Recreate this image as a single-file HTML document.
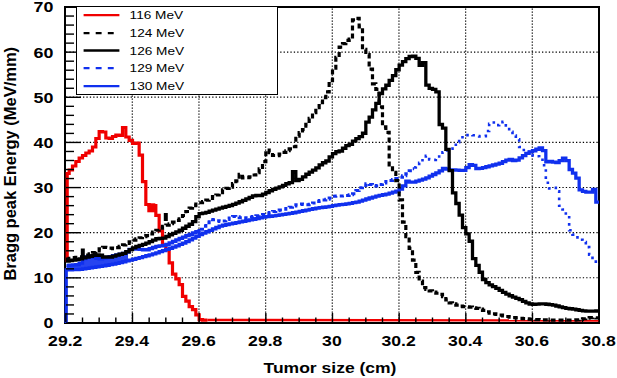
<!DOCTYPE html>
<html><head><meta charset="utf-8"><style>
html,body{margin:0;padding:0;background:#fff;}
body{width:617px;height:378px;position:relative;overflow:hidden;font-family:"Liberation Sans",sans-serif;}
</style></head><body>
<svg width="617" height="378" viewBox="0 0 617 378" style="position:absolute;left:0;top:0"><g stroke="#000" stroke-width="1.2" stroke-dasharray="1.2 1.8"><line x1="132.30" y1="8.5" x2="132.30" y2="322" /><line x1="198.96" y1="8.5" x2="198.96" y2="322" /><line x1="265.63" y1="8.5" x2="265.63" y2="322" /><line x1="332.29" y1="8.5" x2="332.29" y2="322" /><line x1="398.96" y1="8.5" x2="398.96" y2="322" /><line x1="465.63" y1="8.5" x2="465.63" y2="322" /><line x1="532.29" y1="8.5" x2="532.29" y2="322" /></g><g stroke="#000" stroke-width="1.2" stroke-dasharray="1.3 2.1"><line x1="66" y1="277.76" x2="598" y2="277.76" /><line x1="66" y1="232.62" x2="598" y2="232.62" /><line x1="66" y1="187.48" x2="598" y2="187.48" /><line x1="66" y1="142.34" x2="598" y2="142.34" /><line x1="66" y1="97.20" x2="598" y2="97.20" /><line x1="66" y1="52.06" x2="598" y2="52.06" /></g><rect x="65" y="7" width="534" height="316" fill="none" stroke="#000" stroke-width="2"/><rect x="147.3" y="203.3" width="8" height="9" fill="#f00000"/><polygon points="66.5,265.5 68.1,265.4 69.7,265.3 71.2,265.1 72.8,265.0 74.4,264.9 76.0,264.8 77.5,264.7 79.1,264.6 80.7,263.5 82.3,261.1 83.8,258.7 85.4,257.9 87.0,257.1 88.6,256.4 90.2,256.2 91.7,256.6 93.3,257.1 94.9,257.5 96.5,258.0 98.0,258.4 99.6,258.9 101.2,258.8 102.8,258.4 104.3,258.1 105.9,257.8 107.5,257.5 109.1,257.2 110.7,256.8 112.2,256.3 113.8,255.9 115.4,255.4 117.0,255.0 118.5,254.7 120.1,254.4 121.7,254.1 123.3,253.6 124.8,253.1 126.4,252.7 128.0,251.7 128.0,260.8 126.4,261.2 124.8,261.6 123.3,262.0 121.7,262.3 120.1,262.7 118.5,263.1 117.0,263.5 115.4,263.9 113.8,264.2 112.2,264.5 110.7,264.7 109.1,265.0 107.5,265.2 105.9,265.5 104.3,265.8 102.8,266.0 101.2,266.3 99.6,266.5 98.0,266.8 96.5,267.0 94.9,267.3 93.3,267.6 91.7,267.8 90.2,268.0 88.6,268.2 87.0,268.5 85.4,268.7 83.8,268.9 82.3,269.2 80.7,269.4 79.1,269.5 77.5,269.5 76.0,269.5 74.4,269.5 72.8,269.5 71.2,269.5 69.7,269.5 68.1,269.5 66.5,269.5" fill="#1030ee" fill-opacity="0.9"/><path d="M67.20,262.00V173.50H69.16V170.00H72.50V166.00H75.83V161.50H79.16V158.00H82.50V155.50H85.83V153.00H89.16V151.00H92.50V147.00H95.83V138.50H99.16V131.50H102.50V132.00H105.83V138.00H109.16V138.50H112.50V136.50H115.83V135.00H119.16V135.50H122.50V127.50H125.83V137.00H129.16V140.40H132.50V143.50H135.83V143.00H139.16V155.04H142.50V181.54H145.83V204.48H149.16V205.49H152.50V205.50H155.83V215.39H159.16V230.92H162.50V245.26H165.83V249.83H169.16V262.81H172.50V274.21H175.83V278.83H179.16V284.59H182.50V296.45H185.83V301.05H189.16V306.70H192.50V309.57H195.83V314.81H199.16V319.57H202.50V320.21H205.83V320.05H207.30" fill="none" stroke="#f00000" stroke-width="3.2" stroke-linejoin="miter" /><polyline points="207.3,320.0 599.0,320.5" fill="none" stroke="#f00000" stroke-width="2.4" stroke-linejoin="miter" /><path d="M66.20,323.00V270.00V269.95H69.16V269.83H72.50V269.71H75.83V269.59H79.16V269.37H82.50V268.89H85.83V268.41H89.16V267.92H92.50V267.42H95.83V266.88H99.16V266.33H102.50V265.78H105.83V265.23H109.16V264.69H112.50V264.13H115.83V263.38H119.16V262.56H122.50V261.74H125.83V260.91H129.16V260.09H132.50V259.25H135.83V258.40H139.16V257.56H142.50V256.71H145.83V255.77H149.16V254.80H152.50V253.83H155.83V252.83H159.16V251.72H162.50V250.61H165.83V249.46H169.16V248.24H172.50V247.03H175.83V245.79H179.16V244.43H182.50V243.07H185.83V241.69H189.16V239.97H192.50V238.16H195.83V236.36H199.16V234.65H202.50V233.20H205.83V231.75H209.16V230.31H212.50V228.86H215.83V227.51H219.16V226.18H222.50V225.23H225.83V224.57H229.16V223.91H232.50V223.25H235.83V222.59H239.16V221.93H242.50V221.27H245.83V220.59H249.16V219.91H252.50V219.24H255.83V218.56H259.16V217.89H262.50V217.22H265.83V216.72H269.16V216.26H272.50V215.80H275.83V215.34H279.16V214.88H282.50V214.40H285.83V213.92H289.16V213.38H292.50V212.73H295.83V212.09H299.16V211.43H302.50V210.74H305.83V210.05H309.16V209.38H312.50V208.73H315.83V208.08H319.16V207.60H322.50V207.26H325.83V206.91H329.16V206.37H332.50V205.72H335.83V205.08H339.16V204.65H342.49V204.31H345.83V203.95H349.16V203.37H352.49V202.71H355.83V202.04H359.16V201.06H362.49V200.03H365.83V199.01H369.16V198.02H372.49V197.03H375.83V196.09H379.16V195.41H382.49V194.76H385.83V194.04H389.16V193.05H392.49V192.05H395.83V191.04H399.16V189.17H402.49V185.83H405.83V181.24H409.16V182.03H412.49V182.21H415.83V181.21H419.16V180.20H422.49V179.08H425.83V177.83H429.16V176.19H432.49V174.52H435.83V172.91H439.16V170.84H442.49V168.34H445.83V169.22H449.16V169.80H452.49V169.81H455.83V170.06H459.16V170.38H462.49V170.34H465.83V167.67H469.16V164.70H472.49V165.44H475.83V168.63H479.16V168.28H482.49V167.60H485.83V166.74H489.16V165.89H492.49V165.02H495.83V164.16H499.16V163.25H502.49V161.72H505.83V160.05H509.16V159.40H512.49V160.50H515.83V160.10H519.16V157.88H522.49V155.65H525.83V153.41H529.16V151.89H532.49V150.77H535.83V149.25H539.16V147.86H542.49V150.68H545.83V161.80H549.16V161.28H552.49V162.18H555.83V162.55H559.16V160.71H562.49V158.12H565.83V160.69H569.16V169.50H572.49V173.05H575.83V178.18H579.16V189.89H582.49V191.45H585.83V192.16H589.16V192.18H592.49V189.52H595.83V202.04H599.00" fill="none" stroke="#1030ee" stroke-width="3.3" stroke-linejoin="miter" /><path d="M66.50,265.40H69.16V265.18H72.50V264.93H75.83V264.69H79.16V263.17H82.50V258.71H85.83V256.91H89.16V256.38H92.50V257.33H95.83V258.28H99.16V258.81H102.50V258.17H105.83V257.50H109.16V256.75H112.50V255.75H115.83V254.90H119.16V254.23H122.50V253.35H125.83V252.01H129.16V249.28H132.50V248.68H135.83V249.14H139.16V249.44H142.50V249.74H145.83V249.77H149.16V248.66H152.50V247.49H155.83V246.44H159.16V245.86H162.50V245.31H165.83V244.32H169.16V242.80H172.50V241.29H175.83V239.80H179.16V238.43H182.50V237.07H185.83V235.71H189.16V234.32H192.50V232.93H195.83V231.54H199.16V230.67H200.00" fill="none" stroke="#1030ee" stroke-width="3.3" stroke-linejoin="miter" /><path d="M200.00,229.20H202.50V226.15H205.83V222.66H209.16V219.53H212.50V219.84H215.83V220.72H219.16V221.61H222.50V221.12H225.83V219.55H229.16V217.97H232.50V216.44H235.83V216.73H239.16V217.71H242.50V218.32H245.83V217.71H249.16V217.05H252.50V216.39H255.83V215.73H259.16V215.07H262.50V214.40H265.83V213.48H269.16V212.51H272.50V211.54H275.83V210.70H279.16V210.03H282.50V209.37H285.83V208.44H289.16V207.19H292.50V205.94H295.83V204.73H299.16V204.12H302.50V204.43H305.83V204.74H309.16V204.25H312.50V202.91H315.83V201.56H319.16V200.60H322.50V199.92H325.83V199.23H329.16V197.90H332.50V196.36H335.83V196.10H339.16V196.10H342.49V196.04H345.83V195.45H349.16V194.80H352.49V193.75H355.83V190.61H359.16V187.67H362.49V185.58H365.83V183.81H369.16V184.48H372.49V185.47H375.83V186.10H379.16V184.62H382.49V182.93H385.83V181.39H389.16V180.44H392.49V179.52H395.83V178.60H399.16V177.34H402.49V175.67H405.83V173.69H409.16V170.83H412.49V168.69H414.10" fill="none" stroke="#1030ee" stroke-width="3" stroke-linejoin="miter" stroke-dasharray="4 3" /><path d="M414.10,167.35H415.83V165.43H419.16V162.86H422.49V158.82H425.83V155.91H429.16V159.44H432.49V159.91H435.83V156.56H439.16V154.23H442.49V152.18H445.83V150.35H449.16V148.69H452.49V146.23H455.83V142.29H459.16V138.81H462.49V135.85H465.83V135.14H469.16V134.73H472.49V135.28H475.83V136.14H479.16V136.57H482.49V136.14H485.83V131.02H489.16V123.92H492.49V122.56H495.83V125.16H499.16V124.17H502.49V121.90H505.83V125.37H509.16V131.74H512.49V135.55H515.83V139.24H519.16V146.96H522.49V149.95H525.83V151.75H529.16V153.55H532.49V155.33H535.83V156.23H539.16V157.32H542.49V165.18H545.83V182.72H549.16V188.36H552.49V187.89H555.83V191.40H559.16V205.78H562.49V209.44H565.83V215.41H569.16V230.23H572.49V234.62H575.83V237.37H579.16V239.80H582.49V242.04H585.83V247.17H589.16V254.66H592.49V260.19H595.83V264.41H599.00" fill="none" stroke="#1030ee" stroke-width="2.6" stroke-linejoin="miter" stroke-dasharray="2.6 4.5" /><path d="M66.00,261.14H69.16V260.62H72.50V260.08H75.83V259.54H79.16V258.83H82.50V257.97H85.83V257.10H89.16V256.24H92.50V255.44H95.83V254.90H99.16V255.25H102.50V257.00H105.83V257.00H109.16V257.00H112.50V256.19H115.83V255.11H119.16V254.23H122.50V253.35H125.83V251.77H129.16V249.72H132.50V247.92H135.83V246.51H139.16V245.42H142.50V244.33H145.83V243.13H149.16V241.61H152.50V240.09H155.83V238.76H159.16V238.45H162.50V238.10H165.83V236.52H169.16V234.73H172.50V233.28H175.83V231.96H179.16V230.24H182.50V228.23H185.83V226.24H189.16V224.27H192.50V221.62H195.83V216.71H199.16V213.70H202.50V213.04H205.83V212.29H209.16V211.21H212.50V210.12H215.83V209.03H219.16V208.09H222.50V207.25H225.83V206.41H229.16V205.52H232.50V204.29H235.83V203.03H239.16V201.77H242.50V200.39H245.83V198.89H249.16V197.38H252.50V195.90H255.83V195.50H259.16V195.48H262.50V194.22H265.83V192.49H269.16V190.76H272.50V189.30H275.83V188.06H279.16V186.81H282.50V185.42H285.83V183.75H289.16V182.54H292.50V171.74H295.83V180.70H299.16V179.34H302.50V176.81H305.83V174.25H309.16V172.05H312.50V170.04H315.83V167.87H319.16V164.92H322.50V162.74H325.83V160.99H329.16V156.86H332.50V153.71H335.83V151.73H339.16V150.98H342.49V148.25H345.83V145.62H349.16V144.25H352.49V141.09H355.83V138.69H359.16V136.59H362.49V133.27H365.83V122.05H369.16V117.08H372.49V109.94H375.83V103.47H379.16V93.68H382.49V88.84H385.83V85.23H389.16V80.34H392.49V75.72H395.83V69.76H399.16V65.06H402.49V61.58H405.83V58.67H409.16V56.50H412.49V56.07H415.83V58.43H419.16V65.24H422.49V62.72H425.83V85.09H429.16V88.35H432.49V89.40H435.83V91.81H439.16V124.48H442.49V128.08H445.83V149.44H449.16V170.60H452.49V192.90H455.83V203.50H459.16V215.19H462.49V227.66H465.83V233.89H469.16V241.24H472.49V258.71H475.83V265.47H479.16V272.27H482.49V279.49H485.83V282.54H489.16V284.90H492.49V286.61H495.83V288.36H499.16V290.36H502.49V292.32H505.83V294.04H509.16V295.75H512.49V297.15H515.83V298.37H519.16V299.65H522.49V301.28H525.83V302.95H529.16V304.00H532.49V304.33H535.83V304.11H539.16V303.89H542.49V303.80H545.83V304.24H549.16V304.71H552.49V305.21H555.83V306.02H559.16V306.88H562.49V307.72H565.83V308.28H569.16V308.75H572.49V309.22H575.83V309.74H579.16V310.28H582.49V310.82H585.83V311.09H589.16V311.06H592.49V311.04H595.83V311.01H599.00" fill="none" stroke="#000" stroke-width="3.3" stroke-linejoin="miter" /><path d="M66.00,258.99H69.16V258.36H72.50V257.72H75.83V257.30H79.16V256.95H82.50V256.34H85.83V255.15H89.16V253.94H92.50V252.61H95.83V250.79H99.16V248.93H102.50V247.28H105.83V247.51H109.16V248.05H112.50V248.54H115.83V247.65H119.16V246.29H122.50V244.94H125.83V243.41H129.16V241.76H132.50V240.11H135.83V238.75H139.16V237.76H142.50V236.76H145.83V235.58H149.16V233.89H152.50V232.18H155.83V230.23H159.16V228.19H162.50V226.34H165.83V225.20H169.16V223.75H172.50V222.11H175.83V220.45H179.16V218.77H182.50V215.48H185.83V211.51H189.16V208.22H192.50V205.59H195.83V203.98H199.16V202.74H202.50V201.51H205.83V200.17H209.16V198.45H212.50V196.72H215.83V194.98H219.16V192.57H222.50V189.75H225.83V188.34H229.16V187.11H232.50V183.58H235.83V180.94H239.16V174.41H242.50V177.86H245.83V177.66H249.16V176.97H252.50V175.00H255.83V172.75H259.16V168.97H262.50V161.68H265.83V150.00H269.16V152.61H272.50V155.49H275.83V155.74H279.16V154.16H282.50V152.42H285.83V150.75H289.16V148.90H292.50V146.73H295.83V136.12H299.16V132.64H302.50V129.52H305.83V124.43H309.16V118.45H312.50V112.67H315.83V107.66H319.16V102.68H322.50V97.76H325.83V91.92H329.16V80.65H332.50V68.25H335.83V57.26H339.16V47.08H342.49V43.58H345.83V40.32H349.16V39.13H352.49V19.93H355.83V18.32H359.16V26.86H362.49V49.41H365.83V54.51H369.16V69.18H372.49V83.79H375.83V89.33H379.16V106.81H382.49V126.81H385.83V132.29H389.16V164.99H392.49V172.33H395.83V180.63H399.16V199.79H402.49V222.07H405.83V236.60H409.16V248.35H412.49V260.11H415.83V272.41H419.16V281.05H422.49V287.62H425.83V289.37H429.16V290.97H432.49V292.14H435.83V293.25H439.16V294.35H442.49V296.58H445.83V299.96H449.16V302.79H452.49V303.94H455.83V305.04H459.16V306.13H462.49V306.55H465.83V306.75H469.16V307.07H472.49V307.73H475.83V308.40H479.16V309.17H482.49V310.45H485.83V311.77H489.16V313.05H492.49V313.81H495.83V314.48H499.16V315.15H502.49V315.81H505.83V316.48H509.16V317.15H512.49V317.61H515.83V317.96H519.16V318.31H522.49V318.64H525.83V318.96H529.16V319.27H532.49V319.53H535.83V319.64H539.16V319.75H542.49V319.86H545.83V319.97H549.16V320.08H552.49V320.19H555.83V320.20H559.16V320.20H562.49V320.20H565.83V320.20H569.16V320.20H572.49V320.20H575.83V319.85H579.16V319.30H582.49V318.74H585.83V318.18H589.16V317.63H592.49V317.57H595.83V317.86H599.00" fill="none" stroke="#000" stroke-width="3.2" stroke-linejoin="miter" stroke-dasharray="5 3" /><g stroke="#000" stroke-width="1.4"><line x1="66" y1="323.00" x2="81" y2="323.00" /><line x1="66" y1="313.97" x2="74" y2="313.97" /><line x1="66" y1="304.94" x2="74" y2="304.94" /><line x1="66" y1="295.92" x2="74" y2="295.92" /><line x1="66" y1="286.89" x2="74" y2="286.89" /><line x1="66" y1="277.86" x2="81" y2="277.86" /><line x1="66" y1="268.83" x2="74" y2="268.83" /><line x1="66" y1="259.80" x2="74" y2="259.80" /><line x1="66" y1="250.78" x2="74" y2="250.78" /><line x1="66" y1="241.75" x2="74" y2="241.75" /><line x1="66" y1="232.72" x2="81" y2="232.72" /><line x1="66" y1="223.69" x2="74" y2="223.69" /><line x1="66" y1="214.66" x2="74" y2="214.66" /><line x1="66" y1="205.64" x2="74" y2="205.64" /><line x1="66" y1="196.61" x2="74" y2="196.61" /><line x1="66" y1="187.58" x2="81" y2="187.58" /><line x1="66" y1="178.55" x2="74" y2="178.55" /><line x1="66" y1="169.52" x2="74" y2="169.52" /><line x1="66" y1="160.50" x2="74" y2="160.50" /><line x1="66" y1="151.47" x2="74" y2="151.47" /><line x1="66" y1="142.44" x2="81" y2="142.44" /><line x1="66" y1="133.41" x2="74" y2="133.41" /><line x1="66" y1="124.38" x2="74" y2="124.38" /><line x1="66" y1="115.36" x2="74" y2="115.36" /><line x1="66" y1="106.33" x2="74" y2="106.33" /><line x1="66" y1="97.30" x2="81" y2="97.30" /><line x1="66" y1="88.27" x2="74" y2="88.27" /><line x1="66" y1="79.24" x2="74" y2="79.24" /><line x1="66" y1="70.22" x2="74" y2="70.22" /><line x1="66" y1="61.19" x2="74" y2="61.19" /><line x1="66" y1="52.16" x2="81" y2="52.16" /><line x1="66" y1="43.13" x2="74" y2="43.13" /><line x1="66" y1="34.10" x2="74" y2="34.10" /><line x1="66" y1="25.08" x2="74" y2="25.08" /><line x1="66" y1="16.05" x2="74" y2="16.05" /><line x1="66" y1="7.02" x2="81" y2="7.02" /><line x1="65.83" y1="322" x2="65.83" y2="313" /><line x1="82.50" y1="322" x2="82.50" y2="317.5" /><line x1="99.16" y1="322" x2="99.16" y2="317.5" /><line x1="115.83" y1="322" x2="115.83" y2="317.5" /><line x1="132.50" y1="322" x2="132.50" y2="313" /><line x1="149.16" y1="322" x2="149.16" y2="317.5" /><line x1="165.83" y1="322" x2="165.83" y2="317.5" /><line x1="182.50" y1="322" x2="182.50" y2="317.5" /><line x1="199.16" y1="322" x2="199.16" y2="313" /><line x1="215.83" y1="322" x2="215.83" y2="317.5" /><line x1="232.50" y1="322" x2="232.50" y2="317.5" /><line x1="249.16" y1="322" x2="249.16" y2="317.5" /><line x1="265.83" y1="322" x2="265.83" y2="313" /><line x1="282.49" y1="322" x2="282.49" y2="317.5" /><line x1="299.16" y1="322" x2="299.16" y2="317.5" /><line x1="315.83" y1="322" x2="315.83" y2="317.5" /><line x1="332.49" y1="322" x2="332.49" y2="313" /><line x1="349.16" y1="322" x2="349.16" y2="317.5" /><line x1="365.83" y1="322" x2="365.83" y2="317.5" /><line x1="382.49" y1="322" x2="382.49" y2="317.5" /><line x1="399.16" y1="322" x2="399.16" y2="313" /><line x1="415.83" y1="322" x2="415.83" y2="317.5" /><line x1="432.49" y1="322" x2="432.49" y2="317.5" /><line x1="449.16" y1="322" x2="449.16" y2="317.5" /><line x1="465.83" y1="322" x2="465.83" y2="313" /><line x1="482.49" y1="322" x2="482.49" y2="317.5" /><line x1="499.16" y1="322" x2="499.16" y2="317.5" /><line x1="515.83" y1="322" x2="515.83" y2="317.5" /><line x1="532.49" y1="322" x2="532.49" y2="313" /><line x1="549.16" y1="322" x2="549.16" y2="317.5" /><line x1="565.83" y1="322" x2="565.83" y2="317.5" /><line x1="582.49" y1="322" x2="582.49" y2="317.5" /><line x1="599.16" y1="322" x2="599.16" y2="313" /></g><rect x="80.8" y="248.5" width="4" height="10" fill="#000"/><rect x="163.8" y="213" width="4" height="8" fill="#000"/><rect x="76.5" y="6.5" width="201" height="88" fill="#fff" stroke="#000" stroke-width="1"/><line x1="83.6" y1="15.1" x2="119.4" y2="15.1" stroke="#f00000" stroke-width="2.4"/><line x1="83.6" y1="33.1" x2="119.4" y2="33.1" stroke="#000" stroke-width="2.4" stroke-dasharray="5.9 6.2"/><line x1="83.6" y1="50.5" x2="119.4" y2="50.5" stroke="#000" stroke-width="2.4"/><line x1="83.6" y1="68.1" x2="119.4" y2="68.1" stroke="#1030ee" stroke-width="2.4" stroke-dasharray="5.9 6.2"/><line x1="83.6" y1="86.1" x2="119.4" y2="86.1" stroke="#1030ee" stroke-width="2.4"/><g font-family="Liberation Sans, sans-serif" fill="#000"><text transform="translate(53.40,328.45) scale(1.15,1)" text-anchor="end" font-size="15.5" font-weight="bold">0</text><text transform="translate(53.40,283.31) scale(1.15,1)" text-anchor="end" font-size="15.5" font-weight="bold">10</text><text transform="translate(53.40,238.17) scale(1.15,1)" text-anchor="end" font-size="15.5" font-weight="bold">20</text><text transform="translate(53.40,193.03) scale(1.15,1)" text-anchor="end" font-size="15.5" font-weight="bold">30</text><text transform="translate(53.40,147.89) scale(1.15,1)" text-anchor="end" font-size="15.5" font-weight="bold">40</text><text transform="translate(53.40,102.75) scale(1.15,1)" text-anchor="end" font-size="15.5" font-weight="bold">50</text><text transform="translate(53.40,57.61) scale(1.15,1)" text-anchor="end" font-size="15.5" font-weight="bold">60</text><text transform="translate(53.40,12.47) scale(1.15,1)" text-anchor="end" font-size="15.5" font-weight="bold">70</text><text transform="translate(65.23,346.30) scale(1.135,1)" text-anchor="middle" font-size="15.5" font-weight="bold">29.2</text><text transform="translate(131.90,346.30) scale(1.135,1)" text-anchor="middle" font-size="15.5" font-weight="bold">29.4</text><text transform="translate(198.56,346.30) scale(1.135,1)" text-anchor="middle" font-size="15.5" font-weight="bold">29.6</text><text transform="translate(265.23,346.30) scale(1.135,1)" text-anchor="middle" font-size="15.5" font-weight="bold">29.8</text><text transform="translate(331.89,346.30) scale(1.135,1)" text-anchor="middle" font-size="15.5" font-weight="bold">30</text><text transform="translate(398.56,346.30) scale(1.135,1)" text-anchor="middle" font-size="15.5" font-weight="bold">30.2</text><text transform="translate(465.23,346.30) scale(1.135,1)" text-anchor="middle" font-size="15.5" font-weight="bold">30.4</text><text transform="translate(531.89,346.30) scale(1.135,1)" text-anchor="middle" font-size="15.5" font-weight="bold">30.6</text><text transform="translate(598.56,346.30) scale(1.135,1)" text-anchor="middle" font-size="15.5" font-weight="bold">30.8</text><text transform="translate(129.60,19.20) scale(1.185,1)" text-anchor="start" font-size="11.5" font-weight="normal">116 MeV</text><text transform="translate(129.60,37.20) scale(1.185,1)" text-anchor="start" font-size="11.5" font-weight="normal">124 MeV</text><text transform="translate(129.60,54.60) scale(1.185,1)" text-anchor="start" font-size="11.5" font-weight="normal">126 MeV</text><text transform="translate(129.60,72.20) scale(1.185,1)" text-anchor="start" font-size="11.5" font-weight="normal">129 MeV</text><text transform="translate(129.60,90.20) scale(1.185,1)" text-anchor="start" font-size="11.5" font-weight="normal">130 MeV</text><text transform="translate(263.50,372.80) scale(1.168,1)" text-anchor="start" font-size="15" font-weight="bold">Tumor size (cm)</text><text transform="translate(15.60,280.60) rotate(-90) scale(1.0,1.05)" text-anchor="start" font-size="16.5" font-weight="bold">Bragg peak Energy (MeV/mm)</text></g></svg>
</body></html>
